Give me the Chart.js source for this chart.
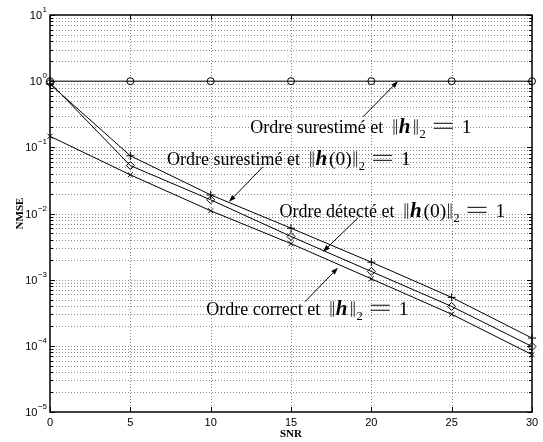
<!DOCTYPE html>
<html><head><meta charset="utf-8">
<script src="https://cdn.jsdelivr.net/npm/chart.js@4.4.1/dist/chart.umd.min.js"></script>
<style>html,body{margin:0;padding:0;background:#fff}#wrap{width:543px;height:442px;position:relative}</style>
</head><body><div id="wrap"><canvas id="c" width="543" height="442"></canvas></div>
<script>
// ---- data ----
const snr = [0, 5, 10, 15, 20, 25, 30];
const nmseSurestimeNorm = [1, 1, 1, 1, 1, 1, 1];                                   // circles
const nmseSurestimeH0 = [0.90, 0.0745, 0.0191, 0.0060, 0.00184, 0.00054, 0.000131];   // plus
const nmseDetecteH0 = [0.95, 0.053, 0.0161, 0.0045, 0.00133, 0.000394, 0.0000977];    // diamonds
const nmseCorrect = [0.147, 0.0384, 0.0110, 0.0035, 0.00103, 0.00030, 0.0000737];     // crosses
const xTickValues = [0, 5, 10, 15, 20, 25, 30];
const xTickLabels = ['0', '5', '10', '15', '20', '25', '30'];
const yDecadeExponents = [1, 0, -1, -2, -3, -4, -5];
const xTitle = 'SNR';
const yTitle = 'NMSE';

// annotations (anchor positions in data units)
const annotations = [
  {prefix: 'Ordre surestimé et ', arg: '', text: [19.35, 0.166], tail: [19.48, 0.289], head: [21.66, 1.0]},
  {prefix: 'Ordre surestimé et ', arg: '(0)', text: [14.87, 0.0544], tail: [13.25, 0.0507], head: [11.14, 0.01503]},
  {prefix: 'Ordre détecté et ', arg: '(0)', text: [21.31, 0.00891], tail: [19.17, 0.0086], head: [16.99, 0.00264]},
  {prefix: 'Ordre correct et ', arg: '', text: [16.02, 0.000295], tail: [15.87, 0.000464], head: [17.92, 0.00151]}
];

const pts = arr => snr.map((x, i) => ({x: x, y: arr[i]}));
const ds = (arr, style, r) => ({
  data: pts(arr), borderColor: '#000', borderWidth: 1, pointStyle: style,
  pointRadius: r, pointBorderColor: '#000', pointBackgroundColor: 'rgba(0,0,0,0)',
  pointBorderWidth: 1, fill: false, tension: 0, clip: false
});

const serif = '"Liberation Serif", "Times New Roman", serif';
const sans = '"Liberation Sans", Arial, sans-serif';

const gridPlugin = {
  id: 'matlabGrid',
  beforeDatasetsDraw(chart) {
    const {ctx, chartArea: a, scales: {x, y}} = chart;
    ctx.save();
    ctx.strokeStyle = '#8a8a8a';
    ctx.lineWidth = 1;
    ctx.setLineDash([1, 2]);
    for (let e = -5; e <= 0; e++) {
      for (let m = 1; m <= 9; m++) {
        const v = m * Math.pow(10, e);
        const py = Math.round(y.getPixelForValue(v)) + 0.5;
        if (py <= a.top + 1 || py >= a.bottom - 1) continue;
        ctx.beginPath(); ctx.moveTo(a.left, py); ctx.lineTo(a.right, py); ctx.stroke();
      }
    }
    xTickValues.forEach(v => {
      const px = Math.round(x.getPixelForValue(v)) + 0.5;
      if (px <= a.left + 1 || px >= a.right - 1) return;
      ctx.beginPath(); ctx.moveTo(px, a.top); ctx.lineTo(px, a.bottom); ctx.stroke();
    });
    ctx.restore();
  },
  afterDatasetsDraw(chart) {
    const {ctx, chartArea: a, scales: {x, y}} = chart;
    ctx.save();
    ctx.setLineDash([]);
    ctx.strokeStyle = '#000';
    ctx.fillStyle = '#000';
    ctx.lineWidth = 1.5;
    ctx.strokeRect(a.left, a.top, a.right - a.left, a.bottom - a.top);
    ctx.lineWidth = 1;
    ctx.beginPath();
    for (let e = -5; e <= 1; e++) {
      for (let m = 1; m <= 9; m++) {
        const v = m * Math.pow(10, e);
        if (v > 10.0001) break;
        const py = Math.round(y.getPixelForValue(v)) + 0.5;
        const len = m === 1 ? 5 : 3;
        ctx.moveTo(a.left, py); ctx.lineTo(a.left + len, py);
        ctx.moveTo(a.right, py); ctx.lineTo(a.right - len, py);
      }
    }
    xTickValues.forEach(v => {
      const px = Math.round(x.getPixelForValue(v)) + 0.5;
      ctx.moveTo(px, a.bottom); ctx.lineTo(px, a.bottom - 5);
      ctx.moveTo(px, a.top); ctx.lineTo(px, a.top + 5);
    });
    ctx.stroke();

    ctx.font = '11px ' + sans;
    ctx.textAlign = 'center';
    ctx.textBaseline = 'middle';
    xTickValues.forEach((v, i) => {
      ctx.fillText(xTickLabels[i], x.getPixelForValue(v), a.bottom + 11);
    });
    yDecadeExponents.forEach(e => {
      const py = y.getPixelForValue(Math.pow(10, e));
      const expStr = e < 0 ? '\u2212' + Math.abs(e) : String(e);
      ctx.font = '8px ' + sans;
      const ew = ctx.measureText(expStr).width;
      const right = a.left - 3;
      ctx.textAlign = 'left';
      ctx.textBaseline = 'alphabetic';
      ctx.fillText(expStr, right - ew, py - 3);
      ctx.font = '11px ' + sans;
      ctx.textAlign = 'right';
      ctx.textBaseline = 'middle';
      ctx.fillText('10', right - ew - 0.5, py + 1);
    });
    ctx.font = 'bold 11px ' + serif;
    ctx.textAlign = 'center';
    ctx.textBaseline = 'middle';
    ctx.fillText(xTitle, (a.left + a.right) / 2, 434);
    ctx.save();
    ctx.translate(20, (a.top + a.bottom) / 2);
    ctx.rotate(-Math.PI / 2);
    ctx.fillText(yTitle, 0, 0);
    ctx.restore();

    annotations.forEach(an => {
      const tx = x.getPixelForValue(an.tail[0]), ty = y.getPixelForValue(an.tail[1]);
      const hx = x.getPixelForValue(an.head[0]), hy = y.getPixelForValue(an.head[1]);
      const ang = Math.atan2(hy - ty, hx - tx);
      const L = 7, W = 2.5;
      const bx = hx - L * Math.cos(ang), by = hy - L * Math.sin(ang);
      ctx.lineWidth = 1;
      ctx.beginPath(); ctx.moveTo(tx, ty); ctx.lineTo(bx, by); ctx.stroke();
      ctx.beginPath();
      ctx.moveTo(hx, hy);
      ctx.lineTo(bx + W * Math.sin(ang), by - W * Math.cos(ang));
      ctx.lineTo(bx - W * Math.sin(ang), by + W * Math.cos(ang));
      ctx.closePath(); ctx.fill();

      const fReg = '18px ' + serif;
      const fMath = '19.5px ' + serif;
      const fBI = 'bold italic 21px ' + serif;
      const fSub = '12.5px ' + serif;
      ctx.textAlign = 'left';
      ctx.textBaseline = 'alphabetic';
      const runs = [
        {t: an.prefix, f: fReg},
        {bar: true, w: 11, off: 5},
        {t: 'h', f: fBI, pad: 2},
        {t: an.arg, f: fMath},
        {bar: true, w: 7, off: 1},
        {t: '2', f: fSub, dy: 5},
        {eq: true, w: 36},
        {t: '1', f: fMath}
      ];
      let w = 0;
      runs.forEach(r => {
        if (r.t !== undefined) { ctx.font = r.f; r.w = ctx.measureText(r.t).width + (r.pad || 0); }
        w += r.w;
      });
      let cx = x.getPixelForValue(an.text[0]) - w / 2;
      const base = y.getPixelForValue(an.text[1]);
      runs.forEach(r => {
        if (r.bar) {
          ctx.lineWidth = 0.8;
          ctx.beginPath();
          ctx.moveTo(cx + r.off + 1.2, base - 13.5); ctx.lineTo(cx + r.off + 1.2, base + 2);
          ctx.moveTo(cx + r.off + 3.8, base - 13.5); ctx.lineTo(cx + r.off + 3.8, base + 2);
          ctx.stroke();
        } else if (r.eq) {
          ctx.lineWidth = 1;
          ctx.beginPath();
          ctx.moveTo(cx + 8, base - 4.5); ctx.lineTo(cx + 27, base - 4.5);
          ctx.moveTo(cx + 8, base - 9.5); ctx.lineTo(cx + 27, base - 9.5);
          ctx.stroke();
        } else {
          ctx.font = r.f;
          ctx.fillText(r.t, cx, base + (r.dy || 0));
        }
        cx += r.w;
      });
    });
    ctx.restore();
  }
};

new Chart(document.getElementById('c').getContext('2d'), {
  type: 'line',
  data: {
    datasets: [
      ds(nmseSurestimeNorm, 'circle', 3.5),
      ds(nmseSurestimeH0, 'cross', 4),
      ds(nmseDetecteH0, 'rectRot', 4),
      ds(nmseCorrect, 'crossRot', 3.5)
    ]
  },
  options: {
    responsive: false,
    animation: false,
    events: [],
    plugins: {legend: {display: false}, tooltip: {enabled: false}},
    layout: {padding: {top: 15, right: 11, left: 0, bottom: 0}},
    scales: {
      x: {
        type: 'linear', min: 0, max: 30,
        ticks: {display: false, stepSize: 5},
        grid: {display: false}, border: {display: false},
        afterFit(s) { s.height = 30; }
      },
      y: {
        type: 'logarithmic', min: 1e-5, max: 10,
        ticks: {display: false},
        grid: {display: false}, border: {display: false},
        afterFit(s) { s.width = 50; }
      }
    }
  },
  plugins: [gridPlugin]
});
</script>
</body></html>
